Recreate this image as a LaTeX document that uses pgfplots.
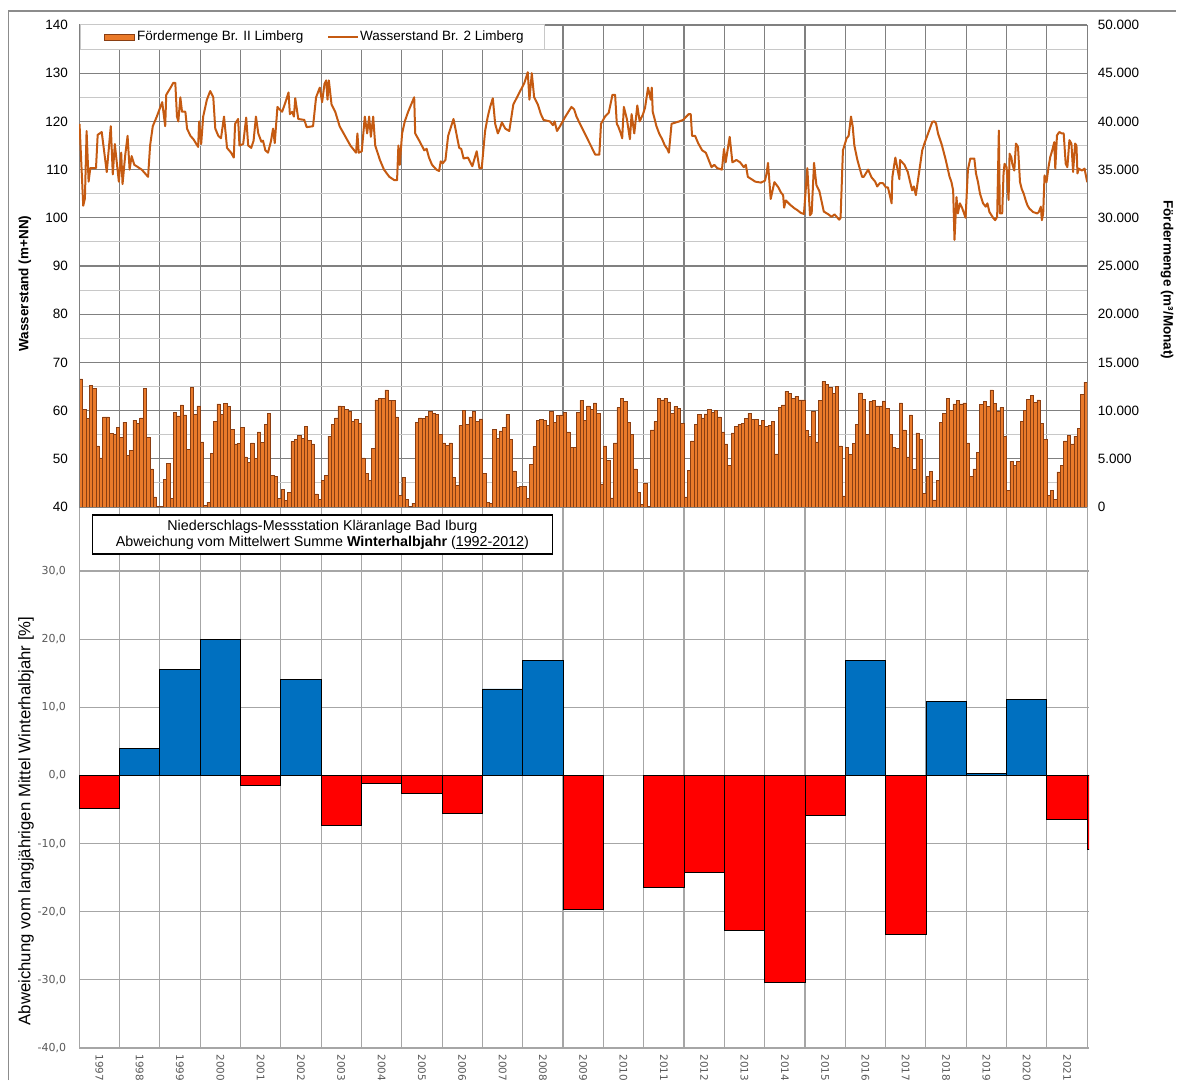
\documentclass[border=0pt]{standalone}
\usepackage{pgfplots}
\pgfplotsset{compat=1.18}
\usepackage{pgfplotstable}
\usepackage{fontspec}
\setmainfont{Liberation Sans}
\newfontfamily\dejavu{DejaVu Sans}

\definecolor{barfill}{HTML}{EA7A2A}
\definecolor{baredge}{HTML}{8A3E12}
\definecolor{levelline}{HTML}{C55A11}
\definecolor{gridmajor}{HTML}{808080}
\definecolor{gridminor}{HTML}{C8C8C8}
\definecolor{gridlow}{HTML}{A6A6A6}
\definecolor{ticktext}{HTML}{595959}
\definecolor{posbar}{HTML}{0070C0}
\definecolor{negbar}{HTML}{FF0000}
\definecolor{frame}{HTML}{8C8C8C}

% year labels take no width of their own in the picture's extent
\newcommand\yr[1]{\makebox[0pt][l]{#1}}

% monthly abstraction volume, Jan 1997 - Dec 2021 (m3/month), one year per line
\pgfplotstableread[row sep=\\]{
m3\\
13300\\ 10150\\ 9200\\ 12600\\ 12300\\ 6350\\ 5100\\ 9350\\ 9350\\ 7650\\ 7550\\ 8250\\
7250\\ 8800\\ 5350\\ 5900\\ 9000\\ 8700\\ 9250\\ 12300\\ 7250\\ 3950\\ 1050\\ 100\\
100\\ 2850\\ 4500\\ 900\\ 9850\\ 9450\\ 10600\\ 9550\\ 6000\\ 12400\\ 9600\\ 10500\\
6750\\ 150\\ 500\\ 5550\\ 8850\\ 10700\\ 9600\\ 10750\\ 10400\\ 8050\\ 6550\\ 6600\\
8250\\ 5200\\ 4600\\ 6650\\ 5050\\ 7800\\ 6700\\ 8600\\ 9700\\ 3300\\ 3150\\ 900\\
1850\\ 650\\ 1550\\ 6800\\ 7050\\ 7450\\ 7100\\ 8350\\ 6900\\ 6550\\ 1350\\ 800\\
2750\\ 3300\\ 7350\\ 8600\\ 9250\\ 10500\\ 10400\\ 10150\\ 9900\\ 8900\\ 9100\\ 8700\\
5100\\ 3500\\ 2800\\ 6100\\ 11100\\ 11250\\ 11250\\ 12150\\ 11050\\ 11050\\ 9350\\ 1200\\
3100\\ 800\\ 100\\ 400\\ 8800\\ 9250\\ 9200\\ 9400\\ 9900\\ 9750\\ 9600\\ 7550\\
6650\\ 6400\\ 6650\\ 3100\\ 2250\\ 8450\\ 10050\\ 8600\\ 9350\\ 9900\\ 8850\\ 9150\\
3450\\ 500\\ 400\\ 8050\\ 7100\\ 7900\\ 8250\\ 9600\\ 7050\\ 3750\\ 2050\\ 2150\\
2150\\ 900\\ 4450\\ 6250\\ 9000\\ 9100\\ 9000\\ 8500\\ 9900\\ 8800\\ 9500\\ 9550\\
9800\\ 7800\\ 6200\\ 6200\\ 9850\\ 11050\\ 9000\\ 10500\\ 10150\\ 10800\\ 9700\\ 2400\\
6350\\ 4800\\ 950\\ 6650\\ 10300\\ 11250\\ 10950\\ 8800\\ 7500\\ 3950\\ 1500\\ 250\\
2450\\ 100\\ 8000\\ 8850\\ 11250\\ 11100\\ 11250\\ 10900\\ 9700\\ 10450\\ 10200\\ 8700\\
1050\\ 3800\\ 6850\\ 8600\\ 9600\\ 9250\\ 9650\\ 10150\\ 9800\\ 10050\\ 9350\\ 7800\\
6550\\ 4300\\ 7700\\ 8400\\ 8600\\ 8700\\ 9200\\ 9700\\ 9100\\ 9100\\ 8500\\ 8950\\
8400\\ 8500\\ 8850\\ 5500\\ 10300\\ 10600\\ 12000\\ 11800\\ 11300\\ 11500\\ 11100\\ 11100\\
7950\\ 7350\\ 9900\\ 6750\\ 11050\\ 13000\\ 12700\\ 12400\\ 11800\\ 12550\\ 6350\\ 1150\\
6150\\ 5450\\ 6600\\ 8600\\ 11850\\ 11150\\ 7550\\ 10950\\ 11050\\ 10500\\ 10500\\ 11000\\
10200\\ 7500\\ 6200\\ 6050\\ 10800\\ 8000\\ 5200\\ 9550\\ 3900\\ 7700\\ 7000\\ 1400\\
3200\\ 3700\\ 750\\ 2750\\ 8750\\ 9700\\ 11250\\ 10000\\ 10700\\ 11050\\ 10700\\ 10800\\
6650\\ 3150\\ 3950\\ 5650\\ 10650\\ 10950\\ 10400\\ 12150\\ 10750\\ 9950\\ 10300\\ 7350\\
1750\\ 4750\\ 4300\\ 4750\\ 8850\\ 10000\\ 11150\\ 11600\\ 10850\\ 11100\\ 8700\\ 7000\\
1200\\ 1750\\ 800\\ 3650\\ 4350\\ 6850\\ 7400\\ 6550\\ 7350\\ 8150\\ 11650\\ 12950\\
}\foerder

% water level of well 2 (m+NN); x in months since Jan 1997
\pgfplotstableread[row sep=\\]{
x y\\
0.1 119.5\\ 1.2 102.5\\ 1.7 104\\ 2.2 118\\ 2.8 107.5\\ 3.3 110.3\\ 5.0 110.3\\ 5.5 117.2\\ 6.7 117.8\\
8.2 109.5\\ 9.4 119\\ 10.0 109\\ 10.6 115.3\\ 11.8 107.5\\ 12.5 113.5\\ 12.9 107\\ 13.7 113\\ 14.4 117\\
15.0 110\\ 15.6 112.8\\ 16.4 111\\ 18.6 110\\ 20.5 108.5\\ 21.1 115\\ 21.9 119\\ 23.1 121\\ 24.7 124\\
25.6 119\\ 25.9 125.5\\ 27.2 127\\ 28.0 128\\ 28.6 128\\ 29.1 121\\ 29.5 120\\ 30.1 125\\ 30.6 122\\
31.6 122\\ 32.1 118.5\\ 33.1 117\\ 34.0 116.3\\ 35.4 114.7\\ 35.7 120\\ 36.3 115.3\\ 36.9 121\\ 38.0 124.5\\
39.0 126.3\\ 39.9 125\\ 40.5 118.5\\ 41.4 117\\ 42.2 116.5\\ 43.1 121\\ 44.0 114.5\\ 45.2 113.5\\ 46.0 112.5\\
46.4 119.5\\ 47.3 120.5\\ 47.7 115\\ 48.8 115.3\\ 49.7 120.8\\ 50.3 115\\ 51.2 114.5\\ 51.9 116\\ 52.6 121\\
53.3 117.5\\ 54.2 115.8\\ 54.7 116\\ 55.4 114\\ 56.2 113.5\\ 57.1 116\\ 57.7 118.5\\ 58.2 115.5\\ 59.0 123\\
59.6 122.5\\ 60.4 122\\ 61.4 124\\ 62.3 126\\ 62.7 121.5\\ 63.4 122\\ 63.9 121\\ 64.3 124.8\\ 65.2 120.5\\
67.0 120.3\\ 67.7 118.8\\ 69.6 119\\ 70.5 125\\ 71.6 127\\ 72.3 124\\ 73.0 127.8\\ 73.5 128.5\\ 73.9 124.5\\
74.3 128.5\\ 75.1 123.5\\ 76.2 122\\ 77.5 119\\ 79.1 117\\ 80.7 115\\ 82.4 113.5\\ 82.8 117.5\\ 83.2 113.5\\
84.1 113.8\\ 85.0 121\\ 85.7 117.5\\ 86.3 121\\ 86.8 116.8\\ 87.5 121\\ 88.1 115\\ 89.5 112\\ 90.7 110\\
92.3 108.5\\ 93.8 107.8\\ 94.6 107.8\\ 95.0 115\\ 95.4 111\\ 96.1 117.5\\ 96.9 120\\ 97.9 122\\ 99.7 125\\
100.0 117.5\\ 101.2 116\\ 102.7 114\\ 103.4 114.3\\ 104.1 112.5\\ 105.0 111\\ 106.3 110\\ 107.1 109.7\\
107.6 111.7\\ 108.2 111.3\\ 109.0 112\\ 109.8 117\\ 111.4 120.5\\ 113.1 114.5\\ 113.7 114.3\\ 114.4 112.3\\
115.7 112.5\\ 117.0 110.7\\ 118.3 113.8\\ 119.1 110.3\\ 119.8 110.3\\ 120.8 118\\ 121.6 121\\ 122.3 123\\
123.1 124.8\\ 123.8 119.5\\ 124.6 117.5\\ 125.2 118.5\\ 125.8 119.8\\ 126.8 118.5\\ 128.0 118\\ 129.2 123.5\\
130.3 125\\ 131.4 126.5\\ 132.5 128\\ 133.5 130.2\\ 134.0 124.5\\ 134.7 130\\ 135.4 125\\ 136.5 123.5\\
137.4 121.5\\ 138.2 120.3\\ 140.1 120\\ 141.0 119.2\\ 141.5 120\\ 142.2 118\\ 143.1 119\\ 144.7 121\\
146.5 123\\ 147.3 122.5\\ 148.0 121\\
149.1 119.4\\ 153.6 113.1\\ 154.8 113.1\\ 155.3 119.5\\ 156.5 121\\ 157.6 121.8\\ 158.7 125.5\\ 159.5 125.5\\
160.0 119.5\\ 160.4 119\\ 161.2 117.5\\ 161.6 116.5\\ 162.1 123\\ 163.0 120.5\\ 163.9 116.3\\ 164.4 121.5\\
165.2 117.5\\ 166.1 123.3\\ 166.8 120\\ 167.8 121.5\\ 168.4 122.8\\ 169.3 127\\ 170.1 124.5\\ 170.4 127\\
170.7 122\\ 171.8 119\\ 172.6 117.5\\ 173.5 116.3\\ 174.3 115\\ 175.0 114.3\\ 175.5 113.5\\ 176.3 119.5\\
178.6 120\\ 179.7 120.3\\ 181.4 121.5\\ 182.0 121.5\\ 182.4 117\\ 183.3 117\\ 184.2 115.5\\ 185.4 114\\
186.5 113.5\\ 188.2 110.5\\ 189.0 111\\ 189.9 110.3\\ 191.3 110\\ 191.9 114.3\\ 192.4 111.5\\ 193.3 115.5\\
193.6 116.8\\ 194.4 111.5\\ 195.6 112\\ 196.7 111.5\\ 197.8 110.5\\ 198.4 111\\ 199.0 108.5\\ 200.1 108\\
201.2 107.5\\ 202.9 107.3\\ 204.1 107.7\\ 204.6 109.3\\ 205.0 111.4\\ 205.8 103.9\\ 206.9 107.4\\ 208.0 106.4\\
208.9 105.2\\ 209.5 104.7\\ 209.8 102.1\\ 210.3 103.6\\ 211.6 102.7\\ 212.8 102\\ 213.7 101.6\\ 214.8 101\\
215.7 100.8\\ 216.7 110.3\\ 217.5 100.5\\ 218.0 101\\ 218.7 111.4\\ 219.4 106.8\\ 220.3 105.5\\ 221.6 101.3\\
223.0 100.7\\ 223.9 100.2\\ 224.8 100.7\\ 226.2 99.6\\ 226.6 100\\ 227.3 114\\ 228.4 116.5\\ 229.0 117\\
229.7 121\\ 230.2 119\\ 230.7 115\\ 231.6 112\\ 232.2 110.5\\ 233.0 108.5\\ 233.5 108.5\\ 234.8 110\\
235.8 108.4\\ 236.9 107.5\\ 237.5 106.5\\ 238.3 107.2\\ 239.2 107.2\\ 240.1 106.3\\ 240.7 106.3\\ 241.8 103\\
242.0 108.4\\ 242.9 112.5\\ 244.1 108\\ 244.3 112\\ 245.6 111\\ 246.6 109.5\\ 247.3 107.4\\ 247.9 105.7\\
248.4 106.5\\ 249.0 104.7\\ 250.9 114\\ 251.7 115.7\\ 252.8 117.8\\ 253.9 119.9\\ 254.5 120\\ 255.0 119.6\\
255.6 117.5\\ 256.7 115.2\\ 257.9 112\\ 259.0 108.6\\ 259.6 107.4\\ 260.1 105.7\\ 260.5 95.4\\ 261.1 104.3\\
261.5 100.9\\ 262.1 103\\ 262.8 102\\ 263.8 100\\ 264.5 110\\ 265.2 112.3\\ 266.4 112.3\\ 266.9 109.2\\
267.5 107.4\\ 268.1 105\\ 269.0 103\\ 269.8 102.3\\ 270.3 103\\ 270.9 101.2\\ 272.0 100\\ 272.6 99.5\\
273.2 100.2\\ 273.7 118.1\\ 274.0 100.9\\ 274.7 100.9\\ 275.1 109.2\\ 275.4 111.2\\ 276.0 110.5\\ 276.6 103.7\\
276.9 113.3\\ 277.4 112.6\\ 277.7 111.2\\ 278.3 109.8\\ 278.8 115.4\\ 279.4 114.7\\ 280.0 107.4\\ 280.5 106\\
281.1 105\\ 281.7 103.6\\ 282.2 102.6\\ 282.8 101.9\\ 283.9 101.2\\ 285.1 100.9\\ 285.6 101.2\\ 286.2 102.3\\
286.5 99.5\\ 286.9 100.9\\ 287.3 108.8\\ 287.9 107.4\\ 288.5 110.6\\ 289.0 112.6\\ 289.6 114\\ 290.2 115.7\\
290.5 110.2\\ 291.0 117.1\\ 291.7 117.8\\ 292.4 117.5\\ 293.0 117.5\\ 293.6 111.2\\ 294.1 110.5\\ 294.7 116.1\\
295.3 115.4\\ 295.8 109.5\\ 296.4 115.4\\ 296.8 115\\ 297.1 109.2\\ 297.5 110.2\\ 298.4 109.8\\ 299.2 110.2\\
300.0 107.4\\
}\wasserstand

\begin{document}
\begin{tikzpicture}[x=1pt,y=1pt]
% page extent
\path (0,0) rectangle (1177,1081);

% outer chart frame
\draw[frame, line width=1.8pt] (8.4,1) -- (8.4,1070) -- (1176,1070);

% ---------- lower panel: winter half-year precipitation deviation ----------
\begin{axis}[
  at={(79.2pt,33pt)}, anchor=south west, scale only axis,
  width=1010.0pt, height=541pt,
  xmin=0, xmax=25.05, ymin=-40, ymax=39.4,
  axis x line*=bottom, axis y line*=left,
  axis line style={gridlow, line width=1.2pt},
  xtick={0.5,1.5,...,24.5},
  xticklabels={\yr{1997},\yr{1998},\yr{1999},\yr{2000},\yr{2001},\yr{2002},\yr{2003},\yr{2004},\yr{2005},\yr{2006},\yr{2007},\yr{2008},\yr{2009},\yr{2010},\yr{2011},\yr{2012},\yr{2013},\yr{2014},\yr{2015},\yr{2016},\yr{2017},\yr{2018},\yr{2019},\yr{2020},\yr{2021}},
  minor xtick={0,1,...,25}, xminorgrids,
  ytick={-40,-30,...,30}, ymajorgrids,
  yticklabels={{-40,0},{-30,0},{-20,0},{-10,0},{0,0},{10,0},{20,0},{30,0}},
  major grid style={gridlow, line width=1.1pt},
  minor grid style={gridlow, line width=1.1pt},
  major tick length=0pt, minor tick length=0pt,
  xticklabel style={yshift=-6pt, rotate=-90, anchor=west, inner sep=0pt,
    font=\dejavu\fontsize{10.4}{10.4}\selectfont, text=ticktext},
  yticklabel style={inner sep=0pt, xshift=-13pt,
    font=\dejavu\fontsize{11}{11}\selectfont, text=ticktext},
]
\addplot[ybar, bar width=1, bar shift=0pt, fill=posbar, draw=black, line width=0.8pt]
  coordinates {(1.5,3.9) (2.5,15.5) (3.5,20.0) (5.5,14.1) (10.5,12.7) (11.5,16.9)
               (19.5,16.9) (21.5,10.9) (22.5,0.3) (23.5,11.1)};
\addplot[ybar, bar width=1, bar shift=0pt, fill=negbar, draw=black, line width=0.8pt]
  coordinates {(0.5,-4.8) (4.5,-1.5) (6.5,-7.3) (7.5,-1.2) (8.5,-2.7) (9.5,-5.6)
               (12.5,-19.7) (14.5,-16.5) (15.5,-14.2) (16.5,-22.7) (17.5,-30.4)
               (18.5,-5.9) (20.5,-23.4) (24.5,-6.4) (25.5,-10.8)};
\end{axis}

% ---------- upper panel: abstraction volume (bars, right axis) ----------
\begin{axis}[
  at={(79.2pt,574pt)}, anchor=south west, scale only axis,
  width=1008pt, height=482pt,
  xmin=0, xmax=300, ymin=0, ymax=50000,
  axis x line*=bottom, axis y line*=right,
  axis line style={gridmajor, line width=1.2pt},
  xtick={0,12,...,300}, xticklabels={}, xmajorgrids,
  ytick={0,5000,...,50000}, minor ytick={2500,7500,...,47500},
  ymajorgrids, yminorgrids,
  major grid style={gridmajor, line width=1.1pt},
  minor grid style={gridminor, line width=1.1pt},
  major tick length=0pt, minor tick length=0pt,
  scaled y ticks=false,
  /pgf/number format/1000 sep={.},
  /pgf/number format/assume math mode=true,
  yticklabel style={inner sep=0pt, xshift=10.5pt, font=\fontsize{13.5}{13.5}\selectfont},
]
\addplot[ybar, bar width=1, bar shift=0pt, fill=barfill, draw=baredge, line width=0.5pt]
  table[x expr=\coordindex+0.5, y=m3] {\foerder};
\end{axis}

% ---------- upper panel: water level (line, left axis) ----------
\begin{axis}[
  at={(79.2pt,574pt)}, anchor=south west, scale only axis,
  width=1008pt, height=482pt,
  xmin=0, xmax=300, ymin=40, ymax=140,
  axis x line=none, axis y line*=left,
  axis line style={gridmajor, line width=1.2pt},
  ytick={40,50,...,140},
  major tick length=0pt,
  /pgf/number format/assume math mode=true,
  yticklabel style={inner sep=0pt, xshift=-11pt, font=\fontsize{13.5}{13.5}\selectfont},
]
\addplot[levelline, line width=2pt, line join=round] table[x=x, y=y] {\wasserstand};
\end{axis}

% legend of the upper panel
\draw[gridminor, line width=1pt, fill=white] (80.4,1056) rectangle (544,1031);
\draw[baredge, fill=barfill, line width=0.8pt] (104.5,1040.3) rectangle (134,1046.7);
\node[anchor=west, inner sep=0pt, font=\fontsize{13.5}{13.5}\selectfont] at (137,1043.5) {Fördermenge Br. II Limberg};
\draw[levelline, line width=2pt] (328,1043.5) -- (358,1043.5);
\node[anchor=west, inner sep=0pt, font=\fontsize{13.5}{13.5}\selectfont] at (360,1043.5) {Wasserstand Br. 2 Limberg};

% axis titles of the upper panel
\node[rotate=90, font=\bfseries\fontsize{13.5}{13.5}\selectfont] at (25,797.5) {Wasserstand (m+NN)};
\node[rotate=-90, font=\bfseries\fontsize{13.5}{13.5}\selectfont] at (1167,801) {Fördermenge (m³/Monat)};

% title box and axis title of the lower panel
\node[draw=black, line width=1.2pt, fill=white, minimum width=460.5pt, minimum height=39pt,
      inner sep=0pt, align=center, font=\fontsize{14.3}{16}\selectfont] at (322.4,546.5)
  {Niederschlags-Messstation Kläranlage Bad Iburg\\
   Abweichung vom Mittelwert Summe \textbf{Winterhalbjahr} (\underline{1992-2012})};
\node[rotate=90, font=\fontsize{16.7}{16.7}\selectfont] at (26,260)
  {Abweichung vom langjährigen Mittel Winterhalbjahr [\%]};
\end{tikzpicture}
\end{document}
